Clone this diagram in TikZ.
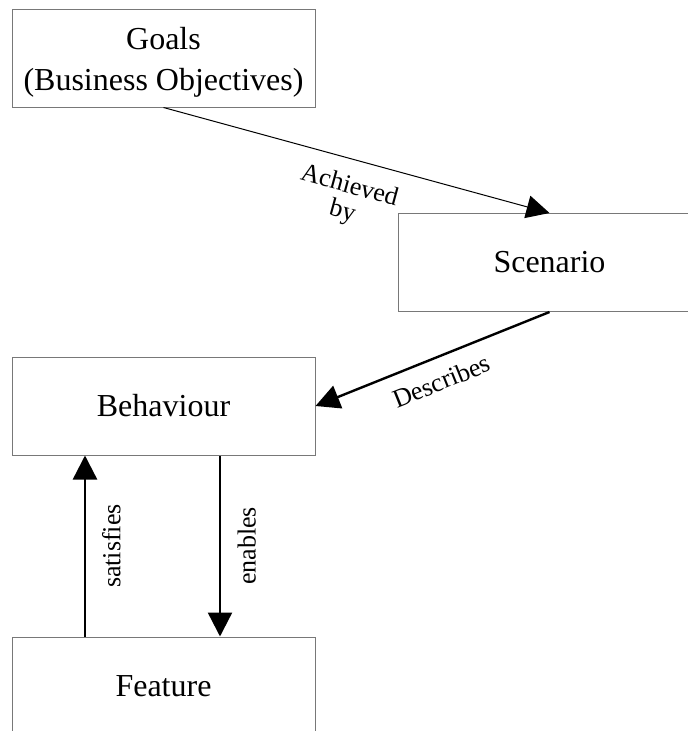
\documentclass[tikz,border=0pt]{standalone}
\usepackage{fontspec}
\setmainfont{Liberation Serif}
\usetikzlibrary{arrows.meta}
\definecolor{boxgray}{RGB}{120,120,120}
\begin{document}
\begin{tikzpicture}[x=1pt,y=-1pt,
  box/.style={draw=boxgray, line width=1pt, minimum width=303pt,
    minimum height=98pt, inner sep=0pt, align=center,
    font=\fontsize{32}{35}\selectfont},
  boxtext/.style={font=\fontsize{32}{41}\selectfont, align=center},
  heavylink/.style={line width=2.4pt, -{Triangle[length=24pt,width=24pt]}},
  heavyback/.style={line width=2.4pt, {Triangle[length=24pt,width=24pt]}-},
  lightlink/.style={line width=1pt, -{Triangle[length=23pt,width=23pt]}},
  lbl/.style={font=\fontsize{26}{26}\selectfont, sloped, align=center}]
\clip (0,0) rectangle (688,731);

% boxes
\node[box, label={[boxtext, yshift=-4pt]center:Goals\\(Business Objectives)}]
  (g) at (163.5,58) {};
\node[box] (s) at (549.5,262.5) {Scenario};
\node[box] (b) at (163.5,406) {Behaviour};
\node[box] (f) at (163.5,686) {Feature};

% relations
\draw[lightlink] (g.south) -- (s.north)
  node[lbl, midway, below=12pt] {Achieved\\by};
\draw[heavylink] (s.south) -- (b.east)
  node[lbl, midway, below=10pt] {Describes};
\draw[heavylink] ([xshift=-78.5pt]f.north) -- ([xshift=-78.5pt]b.south)
  node[lbl, midway, below=12.5pt] {satisfies};
\draw[heavyback] ([xshift=56.5pt]f.north) -- ([xshift=56.5pt]b.south)
  node[lbl, midway, below=13pt] {enables};
\end{tikzpicture}
\end{document}
